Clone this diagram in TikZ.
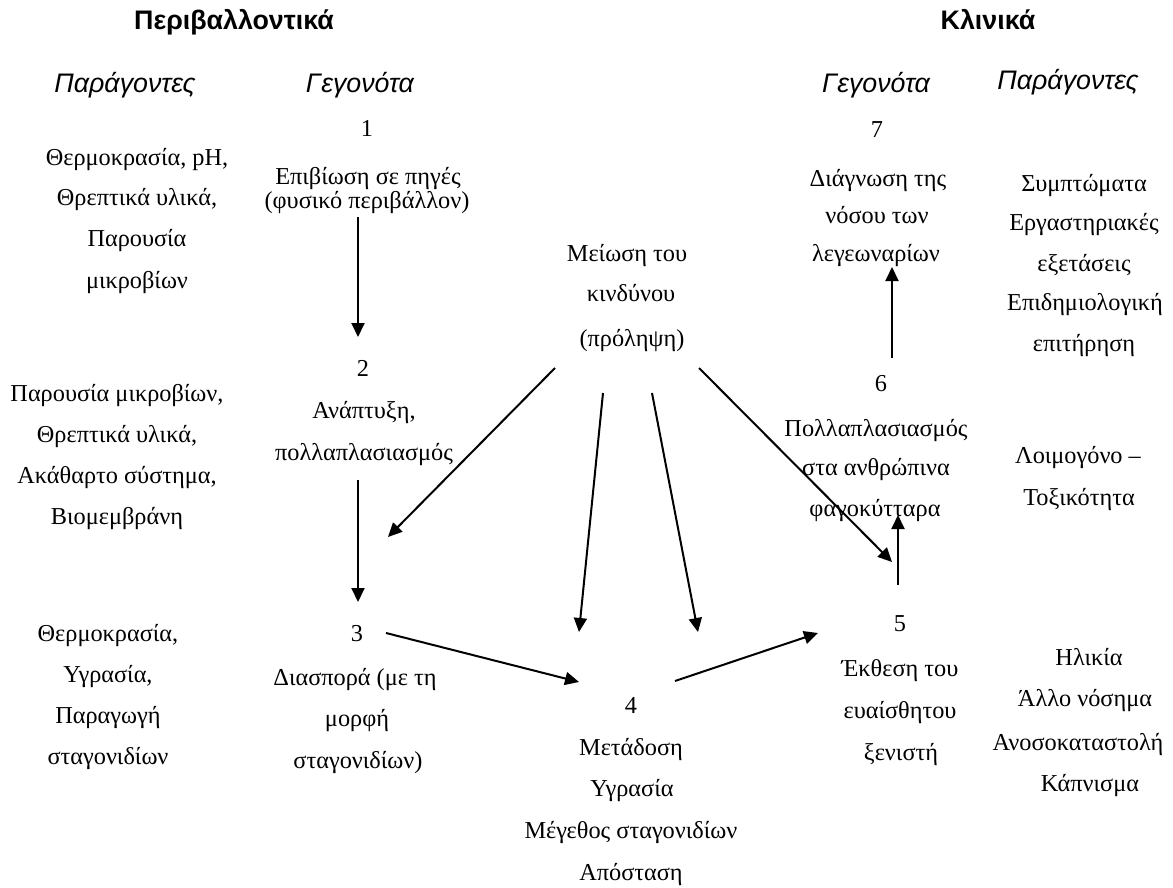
\documentclass[tikz,border=0pt]{standalone}
\usepackage{fontspec}
\setmainfont{Liberation Serif}
\newfontfamily\arialfont{Liberation Sans}
\usetikzlibrary{arrows.meta}
\tikzset{
  tx/.style={anchor=base, inner sep=0pt, font=\fontsize{24.3}{28}\selectfont},
  hb/.style={anchor=base, inner sep=0pt, font=\arialfont\bfseries\fontsize{26.8}{30}\selectfont},
  hi/.style={anchor=base, inner sep=0pt, font=\arialfont\itshape\fontsize{26.8}{30}\selectfont},
  arr/.style={line width=2pt, -{Triangle[length=14pt,width=13pt]}},
}
\begin{document}
\begin{tikzpicture}[x=1pt,y=-1pt]
\useasboundingbox[fill=white] (0,0) rectangle (1173,888);
% headings
\node[hb] (hEnv) at (234,30) {Περιβαλλοντικά};
\node[hb] (hCli) at (988,30) {Κλινικά};
\node[hi] (hPL) at (125,93) {Παράγοντες};
\node[hi] (hGL) at (360,93) {Γεγονότα};
\node[hi] (hGR) at (876,93) {Γεγονότα};
\node[hi] (hPR) at (1068,90) {Παράγοντες};
% left factors
\node[tx] (fa1) at (137,165) {Θερμοκρασία, pH,};
\node[tx] (fa2) at (137,205) {Θρεπτικά υλικά,};
\node[tx] (fa3) at (137,246) {Παρουσία};
\node[tx] (fa4) at (137,288) {μικροβίων};
\node[tx] (fb1) at (117,401) {Παρουσία μικροβίων,};
\node[tx] (fb2) at (117,442) {Θρεπτικά υλικά,};
\node[tx] (fb3) at (117,483) {Ακάθαρτο σύστημα,};
\node[tx] (fb4) at (117,524) {Βιομεμβράνη};
\node[tx] (fc1) at (108,641) {Θερμοκρασία,};
\node[tx] (fc2) at (108,682) {Υγρασία,};
\node[tx] (fc3) at (108,723) {Παραγωγή};
\node[tx] (fc4) at (108,764) {σταγονιδίων};
% events
\node[tx] (e1n) at (367,137) {1};
\node[tx] (e1a) at (368,184) {Επιβίωση σε πηγές};
\node[tx] (e1b) at (367,208) {(φυσικό περιβάλλον)};
\node[tx] (e2n) at (363,376) {2};
\node[tx] (e2a) at (364,418) {Ανάπτυξη,};
\node[tx] (e2b) at (364,460) {πολλαπλασιασμός};
\node[tx] (e3n) at (357,641) {3};
\node[tx] (e3a) at (355,685) {Διασπορά (με τη};
\node[tx] (e3b) at (357,726) {μορφή};
\node[tx] (e3c) at (358,768) {σταγονιδίων)};
\node[tx] (e4n) at (631,713) {4};
\node[tx] (e4a) at (631,755) {Μετάδοση};
\node[tx] (e4b) at (632,796) {Υγρασία};
\node[tx] (e4c) at (631,838) {Μέγεθος σταγονιδίων};
\node[tx] (e4d) at (631,880) {Απόσταση};
\node[tx] (e5n) at (900,631) {5};
\node[tx] (e5a) at (900,676) {Έκθεση του};
\node[tx] (e5b) at (900,718) {ευαίσθητου};
\node[tx] (e5c) at (901,760) {ξενιστή};
\node[tx] (e6n) at (881,391) {6};
\node[tx] (e6a) at (876,436) {Πολλαπλασιασμός};
\node[tx] (e6b) at (876,475) {στα ανθρώπινα};
\node[tx] (e6c) at (875,516) {φαγοκύτταρα};
\node[tx] (e7n) at (877,138) {7};
\node[tx] (e7a) at (878,186) {Διάγνωση της};
\node[tx] (e7b) at (877,223) {νόσου των};
\node[tx] (e7c) at (876,261) {λεγεωναρίων};
% prevention
\node[tx] (p1) at (627,261) {Μείωση του};
\node[tx] (p2) at (631,301) {κινδύνου};
\node[tx] (p3) at (632,346) {(πρόληψη)};
% right factors
\node[tx] (ra1) at (1084,191) {Συμπτώματα};
\node[tx] (ra2) at (1084,230) {Εργαστηριακές};
\node[tx] (ra3) at (1084,271) {εξετάσεις};
\node[tx] (ra4) at (1085,310) {Επιδημιολογική};
\node[tx] (ra5) at (1084,351) {επιτήρηση};
\node[tx] (rb1) at (1078,463) {Λοιμογόνο –};
\node[tx] (rb2) at (1079,505) {Τοξικότητα};
\node[tx] (rc1) at (1089,665) {Ηλικία};
\node[tx] (rc2) at (1085,706) {Άλλο νόσημα};
\node[tx] (rc3) at (1078,750) {Ανοσοκαταστολή};
\node[tx] (rc4) at (1090,791) {Κάπνισμα};
% arrow end points
\coordinate (a12s) at (358,217); \coordinate (a12e) at (358,337);
\coordinate (a23s) at (358,480); \coordinate (a23e) at (358,602);
\coordinate (a34s) at (386,633); \coordinate (a34e) at (579,682);
\coordinate (a45s) at (675,681); \coordinate (a45e) at (818,633);
\coordinate (a56s) at (898,585); \coordinate (a56e) at (898,515);
\coordinate (a67s) at (892,358); \coordinate (a67e) at (892,267);
\coordinate (m1s) at (555,368); \coordinate (m1e) at (388,537);
\coordinate (m2s) at (603,393); \coordinate (m2e) at (579,632);
\coordinate (m3s) at (652,393); \coordinate (m3e) at (698,632);
\coordinate (m4s) at (699,368); \coordinate (m4e) at (892,562);
\draw[arr] (a12s) -- (a12e);
\draw[arr] (a23s) -- (a23e);
\draw[arr] (a34s) -- (a34e);
\draw[arr] (a45s) -- (a45e);
\draw[arr] (a56s) -- (a56e);
\draw[arr] (a67s) -- (a67e);
\draw[arr] (m1s) -- (m1e);
\draw[arr] (m2s) -- (m2e);
\draw[arr] (m3s) -- (m3e);
\draw[arr] (m4s) -- (m4e);
\end{tikzpicture}
\end{document}
